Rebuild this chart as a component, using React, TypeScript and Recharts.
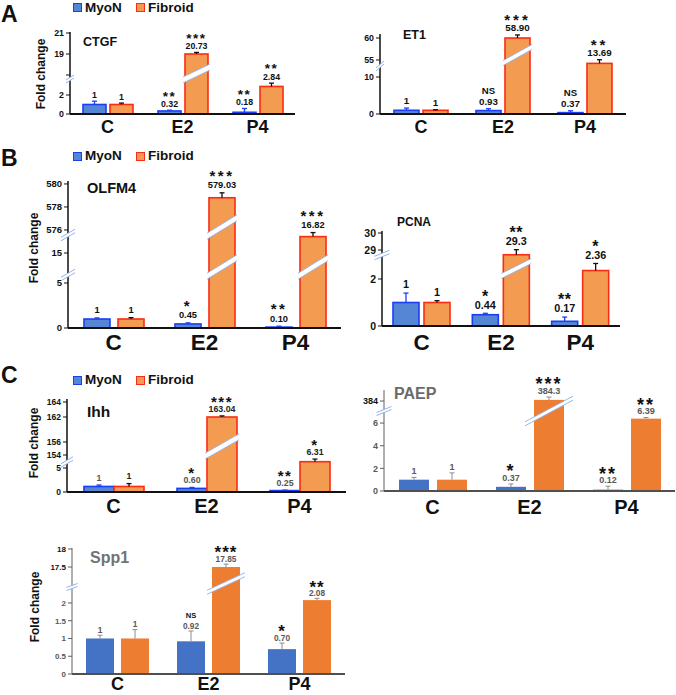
import React from 'react';
import { BarChart, Bar, XAxis, YAxis } from 'recharts';

const FONT = "'Liberation Sans', Arial, Helvetica, sans-serif";
const categories = ['C', 'E2', 'P4'];

// ---- CTGF ----
const ctgfMyoN = [1, 0.32, 0.18];
const ctgfFibroid = [1, 19.0, 2.9];
const ctgfMyoNErr = [0.35, 0.08, 0.4];
const ctgfFibroidErr = [0.15, 0.15, 0.35];
const ctgfMyoNText = ['1', '0.32', '0.18'];
const ctgfFibroidText = ['1', '20.73', '2.84'];
const ctgfMyoNSig = ['', '**', '**'];
const ctgfFibroidSig = ['', '***', '**'];
const ctgfTicks = [0, 2, 17, 19, 21];
const ctgfTickLabels = ['0', '2', '', '19', '21'];

// ---- ET1 ----
const et1MyoN = [1, 0.93, 0.37];
const et1Fibroid = [1, 60, 13.69];
const et1MyoNErr = [0.6, 0.5, 0.5];
const et1FibroidErr = [0.15, 0.7, 1.0];
const et1MyoNText = ['1', '0.93', '0.37'];
const et1FibroidText = ['1', '58.90', '13.69'];
const et1MyoNSig = ['', 'NS', 'NS'];
const et1FibroidSig = ['', '***', '**'];
const et1Ticks = [0, 10, 55, 60];
const et1TickLabels = ['0', '10', '55', '60'];

// ---- OLFM4 ----
const olfm4MyoN = [1, 0.45, 0.1];
const olfm4Fibroid = [1, 578.8, 16.82];
const olfm4MyoNErr = [0.12, 0.12, 0.1];
const olfm4FibroidErr = [0.15, 0.43, 0.45];
const olfm4MyoNText = ['1', '0.45', '0.10'];
const olfm4FibroidText = ['1', '579.03', '16.82'];
const olfm4MyoNSig = ['', '*', '**'];
const olfm4FibroidSig = ['', '***', '***'];
const olfm4Ticks = [0, 5, 15, 576, 578, 580];
const olfm4TickLabels = ['0', '5', '15', '576', '578', '580'];

// ---- PCNA ----
const pcnaMyoN = [1, 0.48, 0.2];
const pcnaFibroid = [1, 28.72, 2.36];
const pcnaMyoNErr = [0.4, 0.06, 0.18];
const pcnaFibroidErr = [0.08, 0.3, 0.3];
const pcnaMyoNText = ['1', '0.44', '0.17'];
const pcnaFibroidText = ['1', '29.3', '2.36'];
const pcnaMyoNSig = ['', '*', '**'];
const pcnaFibroidSig = ['', '**', '*'];
const pcnaTicks = [0, 2, 29, 30];
const pcnaTickLabels = ['0', '2', '29', '30'];

// ---- Ihh ----
const ihhMyoN = [1.15, 0.75, 0.3];
const ihhFibroid = [1.15, 162, 6.31];
const ihhMyoNErr = [0.3, 0.2, 0.1];
const ihhFibroidErr = [0.6, 0.15, 0.55];
const ihhMyoNText = ['1', '0.60', '0.25'];
const ihhFibroidText = ['1', '163.04', '6.31'];
const ihhMyoNSig = ['', '*', '**'];
const ihhFibroidSig = ['', '***', '*'];
const ihhTicks = [0, 5, 154, 156, 162, 164];
const ihhTickLabels = ['0', '5', '154', '156', '162', '164'];

// ---- PAEP ----
const paepMyoN = [1, 0.37, 0.12];
const paepFibroid = [1, 384.1, 6.39];
const paepMyoNErr = [0.2, 0.25, 0.3];
const paepFibroidErr = [0.6, 0.25, 0.1];
const paepMyoNText = ['1', '0.37', '0.12'];
const paepFibroidText = ['1', '384.3', '6.39'];
const paepMyoNSig = ['', '*', '**'];
const paepFibroidSig = ['', '***', '**'];
const paepTicks = [0, 2, 4, 6, 384];
const paepTickLabels = ['0', '2', '4', '6', '384'];

// ---- Spp1 ----
const spp1MyoN = [1, 0.92, 0.7];
const spp1Fibroid = [1, 17.5, 2.08];
const spp1MyoNErr = [0.09, 0.29, 0.17];
const spp1FibroidErr = [0.25, 0.08, 0.05];
const spp1MyoNText = ['1', '0.92', '0.70'];
const spp1FibroidText = ['1', '17.85', '2.08'];
const spp1MyoNSig = ['', 'NS', '*'];
const spp1FibroidSig = ['', '***', '**'];
const spp1Ticks = [0, 0.5, 1, 1.5, 2, 17.5, 18];
const spp1TickLabels = ['0', '0.5', '1', '1.5', '2', '17.5', '18'];

// ---------- styles ----------
const styleAB: any = {
  myonFill: '#5586d6', myonStroke: '#1b3ff0', fibFill: '#f39b51', fibStroke: '#fb2c14', strokeW: 1.6,
  myonErr: '#1b3ff0', fibErr: '#111', errW: 1.3,
  xAxisColor: '#111', xAxisW: 1.8, yAxisColor: '#111', yAxisW: 1.5,
  tickColor: '#111', tickDark: '#111', valueColorM: '#111', valueColorF: '#111', starColor: '#111',
  breakColor: '#95b3e8', bandColor: '#95b3e8',
};
const styleIhh: any = { ...styleAB, valueColorM: '#555', valueColorF: '#222' };
const styleExcel: any = {
  myonFill: '#4472c4', myonStroke: 'none', fibFill: '#ed7d31', fibStroke: 'none', strokeW: 0,
  myonErr: '#8c8c8c', fibErr: '#8c8c8c', errW: 1,
  xAxisColor: '#505050', xAxisW: 2, yAxisColor: '#606060', yAxisW: 1,
  tickColor: '#595959', tickDark: '#111', valueColorM: '#595959', valueColorF: '#595959', starColor: '#111',
  breakColor: '#95b3e8', bandColor: '#8fb0e6',
};

const YW = 50;
const MT = 44;
const XH = 40;
const MR = 2;

// ---------- broken-axis mapping ----------
function segIndex(v: number, segs: number[][][]) {
  let best = 0;
  let bd = Infinity;
  segs.forEach((s, i) => {
    const lo = s[0][0];
    const hi = s[s.length - 1][0];
    const d = v < lo ? lo - v : v > hi ? v - hi : 0;
    if (d < bd) { bd = d; best = i; }
  });
  return best;
}
function interp(v: number, seg: number[][]) {
  let i = 0;
  while (i < seg.length - 2 && v > seg[i + 1][0]) i++;
  const [v0, p0] = seg[i];
  const [v1, p1] = seg[i + 1];
  return p0 + ((v - v0) * (p1 - p0)) / (v1 - v0);
}
function toDisp(v: number, segs: number[][][]) {
  return interp(v, segs[segIndex(v, segs)]);
}
function errDisp(v: number, e: number, segs: number[][][]) {
  const seg = segs[segIndex(v, segs)];
  return interp(v + e, seg) - interp(v, seg);
}

function buildRows(p: any) {
  return categories.map((c, i) => ({
    cat: c,
    m: toDisp(p.myon[i], p.segs),
    f: toDisp(p.fib[i], p.segs),
    mErr: errDisp(p.myon[i], p.myonErr[i], p.segs),
    fErr: errDisp(p.fib[i], p.fibErr[i], p.segs),
    mText: p.myonText[i],
    fText: p.fibText[i],
    mSig: p.myonSig[i],
    fSig: p.fibSig[i],
  }));
}

// ---------- panels ----------
const panels: any[] = [
  {
    key: 'ctgf', myon: ctgfMyoN, fib: ctgfFibroid, myonErr: ctgfMyoNErr, fibErr: ctgfFibroidErr,
    myonText: ctgfMyoNText, fibText: ctgfFibroidText, myonSig: ctgfMyoNSig, fibSig: ctgfFibroidSig,
    ticks: ctgfTicks, tickLabels: ctgfTickLabels,
    segs: [[[0, 0], [3.4, 32.3]], [[17, 39], [21.2, 83.1]]],
    axisX: 70, baseY: 114, D: 82, W: 225, barSize: 23, barGap: 4,
    axisBreaks: [35], breakW: 8, breakRise: 5, breakGap: 3,
    bandBreaks: [35], bandRise: 11, bandT: 6, bandExt: 2,
    valGap: 6.5, starGap: 11, valSize: 8.8, starSize: 13.5, starLs: 1.5, nsSize: 9.6,
    tickFont: 8.8, catSize: 18, catDy: 13, capW: 2.5, darkFrom: 1e9, style: styleAB,
  },
  {
    key: 'et1', myon: et1MyoN, fib: et1Fibroid, myonErr: et1MyoNErr, fibErr: et1FibroidErr,
    myonText: et1MyoNText, fibText: et1FibroidText, myonSig: et1MyoNSig, fibSig: et1FibroidSig,
    ticks: et1Ticks, tickLabels: et1TickLabels,
    segs: [[[0, 0], [14.2, 52.5]], [[54.7, 52.7], [60.8, 79.5]]],
    axisX: 380, baseY: 114, D: 80, W: 246, barSize: 25, barGap: 4,
    axisBreaks: [48], breakW: 8, breakRise: 7, breakGap: 3,
    bandBreaks: [52], bandRise: 14, bandT: 5, bandExt: 2,
    valGap: 7.5, starGap: 11, valSize: 9.8, starSize: 15, starLs: 3, nsSize: 9.6,
    tickFont: 8.8, catSize: 18, catDy: 13, capW: 2.5, darkFrom: 1e9, style: styleAB,
  },
  {
    key: 'olfm4', myon: olfm4MyoN, fib: olfm4Fibroid, myonErr: olfm4MyoNErr, fibErr: olfm4FibroidErr,
    myonText: olfm4MyoNText, fibText: olfm4FibroidText, myonSig: olfm4MyoNSig, fibSig: olfm4FibroidSig,
    ticks: olfm4Ticks, tickLabels: olfm4TickLabels,
    segs: [[[0, 0], [5.9, 53.1]], [[12.9, 56.1], [17, 93]], [[575.65, 94], [580.3, 147.5]]],
    axisX: 68, baseY: 328, D: 147, W: 273, barSize: 26, barGap: 8,
    axisBreaks: [53, 93], breakW: 14, breakRise: 8, breakGap: 3.5,
    bandBreaks: [53, 93], bandRise: 16, bandT: 6, bandExt: 2,
    valGap: 8, starGap: 12.5, valSize: 9.3, starSize: 15, starLs: 2.5, nsSize: 10,
    tickFont: 9.5, catSize: 22.5, catDy: 14, capW: 2.5, darkFrom: 1e9, style: styleAB,
  },
  {
    key: 'pcna', myon: pcnaMyoN, fib: pcnaFibroid, myonErr: pcnaMyoNErr, fibErr: pcnaFibroidErr,
    myonText: pcnaMyoNText, fibText: pcnaFibroidText, myonSig: pcnaMyoNSig, fibSig: pcnaFibroidSig,
    ticks: pcnaTicks, tickLabels: pcnaTickLabels,
    segs: [[[0, 0], [3.0, 70.5]], [[28.7, 70.9], [30.1, 94.7]]],
    axisX: 382, baseY: 326, D: 95, W: 238, barSize: 26, barGap: 5,
    axisBreaks: [71], breakW: 15, breakRise: 6, breakGap: 3.5,
    bandBreaks: [51], bandRise: 13, bandT: 5, bandExt: 2,
    valGap: 8.5, starGap: 12.5, valSize: 10.8, starSize: 16, starLs: 0.5, nsSize: 10,
    tickFont: 10.5, catSize: 22.5, catDy: 16, capW: 2.5, darkFrom: 1e9, style: styleAB,
  },
  {
    key: 'ihh', myon: ihhMyoN, fib: ihhFibroid, myonErr: ihhMyoNErr, fibErr: ihhFibroidErr,
    myonText: ihhMyoNText, fibText: ihhFibroidText, myonSig: ihhMyoNSig, fibSig: ihhFibroidSig,
    ticks: ihhTicks, tickLabels: ihhTickLabels,
    segs: [[[0, 0], [6.6, 31.7]], [[153.4, 33.5], [154, 37], [156, 50], [162, 75], [164, 90], [164.4, 93]]],
    axisX: 67, baseY: 492, D: 93, W: 279, barSize: 30, barGap: 0,
    axisBreaks: [30], breakW: 12, breakRise: 7, breakGap: 3.5,
    bandBreaks: [37], bandRise: 17, bandT: 6, bandExt: 2,
    valGap: 7.5, starGap: 10.5, valSize: 8.8, starSize: 15, starLs: 1.5, nsSize: 9,
    tickFont: 8.5, catSize: 20, catDy: 14, capW: 2.5, darkFrom: 1e9, style: styleIhh,
  },
  {
    key: 'paep', myon: paepMyoN, fib: paepFibroid, myonErr: paepMyoNErr, fibErr: paepFibroidErr,
    myonText: paepMyoNText, fibText: paepFibroidText, myonSig: paepMyoNSig, fibSig: paepFibroidSig,
    ticks: paepTicks, tickLabels: paepTickLabels,
    segs: [[[0, 0], [7.1, 80.4]], [[383.1, 79.8], [385, 101.3]]],
    axisX: 384, baseY: 491, D: 101, W: 291, barSize: 30, barGap: 8,
    axisBreaks: [80], breakW: 15, breakRise: 6, breakGap: 3,
    bandBreaks: [72], bandRise: 16, bandT: 4, bandExt: 9,
    valGap: 6.5, starGap: 10.5, valSize: 9, starSize: 18, starLs: 2, nsSize: 8.5,
    tickFont: 9, catSize: 20, catDy: 15.5, capW: 2.5, darkFrom: 100, style: styleExcel,
  },
  {
    key: 'spp1', myon: spp1MyoN, fib: spp1Fibroid, myonErr: spp1MyoNErr, fibErr: spp1FibroidErr,
    myonText: spp1MyoNText, fibText: spp1FibroidText, myonSig: spp1MyoNSig, fibSig: spp1FibroidSig,
    ticks: spp1Ticks, tickLabels: spp1TickLabels,
    segs: [[[0, 0], [2.3, 81.7]], [[17.2, 96.2], [18.05, 126.8]]],
    axisX: 72, baseY: 674, D: 126, W: 273, barSize: 28, barGap: 7,
    axisBreaks: [87], breakW: 11, breakRise: 4, breakGap: 3,
    bandBreaks: [84], bandRise: 13, bandT: 4, bandExt: 5,
    valGap: 5.5, starGap: 10, valSize: 8.3, starSize: 17, starLs: 1, nsSize: 7.5,
    tickFont: 8, catSize: 18, catDy: 10, capW: 2.5, darkFrom: 10, style: styleExcel,
  },
];

// ---------- chart pieces ----------
function makeShape(p: any, rows: any[], s: 'm' | 'f') {
  const st = p.style;
  return (props: any) => {
    const { x, y, width, height, index } = props;
    const row = props.payload && props.payload.cat ? props.payload : rows[index];
    const disp = row[s];
    const k = disp > 0 && height > 0 ? height / disp : 1;
    const base = y + height;
    const fill = s === 'm' ? st.myonFill : st.fibFill;
    const stroke = s === 'm' ? st.myonStroke : st.fibStroke;
    const errColor = s === 'm' ? st.myonErr : st.fibErr;
    const errPx = row[s + 'Err'] * k;
    const cx = x + width / 2;
    const top = y - errPx;
    const els: any[] = [];
    els.push(
      <rect key="r" x={x} y={y} width={width} height={height} fill={fill} stroke={stroke} strokeWidth={st.strokeW} />
    );
    p.bandBreaks.forEach((bp: number, i: number) => {
      if (disp > bp + 6) {
        const yl = base - bp * k;
        const sl = p.bandRise / width;
        const x0 = x - p.bandExt;
        const x1 = x + width + p.bandExt;
        const yAt = (xx: number) => yl - sl * (xx - x);
        const t = p.bandT / 2;
        els.push(
          <polygon
            key={'b' + i}
            points={`${x0},${yAt(x0) + t} ${x1},${yAt(x1) + t} ${x1},${yAt(x1) - t} ${x0},${yAt(x0) - t}`}
            fill="#fff"
          />
        );
        els.push(<line key={'l1' + i} x1={x0} y1={yAt(x0) + t} x2={x1} y2={yAt(x1) + t} stroke={st.bandColor} strokeWidth={0.9} />);
        els.push(<line key={'l2' + i} x1={x0} y1={yAt(x0) - t} x2={x1} y2={yAt(x1) - t} stroke={st.bandColor} strokeWidth={0.9} />);
      }
    });
    if (errPx > 0.3) {
      els.push(<line key="e" x1={cx} y1={y} x2={cx} y2={top} stroke={errColor} strokeWidth={st.errW} />);
      els.push(<line key="ec" x1={cx - p.capW} y1={top} x2={cx + p.capW} y2={top} stroke={errColor} strokeWidth={st.errW} />);
    }
    const vc = top - p.valGap;
    const txt = row[s + 'Text'];
    const sig = row[s + 'Sig'];
    els.push(
      <text key="v" x={cx} y={vc + 0.36 * p.valSize} textAnchor="middle" fontFamily={FONT} fontWeight="bold"
        fontSize={p.valSize} fill={s === 'm' ? st.valueColorM : st.valueColorF}>{txt}</text>
    );
    if (sig) {
      const sc = vc - p.starGap;
      const isNS = sig === 'NS';
      const size = isNS ? p.nsSize : p.starSize;
      els.push(
        <text key="s" x={cx} y={sc + (isNS ? 0.36 : 0.58) * size} textAnchor="middle" fontFamily={FONT}
          fontWeight="bold" fontSize={size} letterSpacing={isNS ? 0 : p.starLs} fill={st.starColor}>{sig}</text>
      );
    }
    return <g>{els}</g>;
  };
}

function Panel({ p }: { p: any }) {
  const st = p.style;
  const rows = buildRows(p);
  const width = YW + p.W + MR;
  const height = MT + p.D + XH;
  const tickDisp = p.ticks.map((v: number) => toDisp(v, p.segs));
  const allTicks = [...tickDisp, ...p.axisBreaks];
  const ax = YW;

  const yTick = (tp: any) => {
    const v = tp.payload.value;
    const y = tp.y;
    if (p.axisBreaks.includes(v)) {
      const w = p.breakW, r = p.breakRise, g = p.breakGap;
      const xa = ax - w / 2, xb = ax + w / 2;
      return (
        <g>
          <polygon points={`${xa},${y + r / 2 + g / 2} ${xb},${y - r / 2 + g / 2} ${xb},${y - r / 2 - g / 2} ${xa},${y + r / 2 - g / 2}`} fill="#fff" />
          <line x1={xa} y1={y + r / 2 + g / 2} x2={xb} y2={y - r / 2 + g / 2} stroke={st.breakColor} strokeWidth={1} />
          <line x1={xa} y1={y + r / 2 - g / 2} x2={xb} y2={y - r / 2 - g / 2} stroke={st.breakColor} strokeWidth={1} />
        </g>
      );
    }
    const i = tickDisp.indexOf(v);
    const label = i >= 0 ? p.tickLabels[i] : '';
    const raw = i >= 0 ? p.ticks[i] : 0;
    const color = raw >= p.darkFrom ? st.tickDark : st.tickColor;
    return (
      <g>
        <line x1={ax - 4} x2={ax} y1={y} y2={y} stroke={st.yAxisColor} strokeWidth={1} />
        <text x={ax - 6} y={y + 0.36 * p.tickFont} textAnchor="end" fontFamily={FONT} fontWeight="bold"
          fontSize={p.tickFont} fill={color}>{label}</text>
      </g>
    );
  };

  const xTick = (tp: any) => (
    <text x={tp.x} y={MT + p.D + p.catDy + 0.36 * p.catSize} textAnchor="middle" fontFamily={FONT}
      fontWeight="bold" fontSize={p.catSize} fill="#111">{tp.payload.value}</text>
  );

  return (
    <div style={{ position: 'absolute', left: p.axisX - YW, top: p.baseY - p.D - MT }}>
      <BarChart width={width} height={height} data={rows} margin={{ top: MT, right: MR, left: 0, bottom: 0 }} barGap={p.barGap}>
        <XAxis dataKey="cat" height={XH} tickLine={false} tickSize={0} tickMargin={0} interval={0}
          axisLine={{ stroke: st.xAxisColor, strokeWidth: st.xAxisW }} tick={xTick} />
        <YAxis type="number" width={YW} domain={[0, p.D]} ticks={allTicks} interval={0} tickLine={false}
          tickSize={0} tickMargin={0} axisLine={{ stroke: st.yAxisColor, strokeWidth: st.yAxisW }} tick={yTick} />
        <Bar dataKey="m" barSize={p.barSize} isAnimationActive={false} shape={makeShape(p, rows, 'm')} />
        <Bar dataKey="f" barSize={p.barSize} isAnimationActive={false} shape={makeShape(p, rows, 'f')} />
      </BarChart>
    </div>
  );
}

// ---------- HTML text helpers ----------
function T({ x, cy, size, color = '#111', weight = 'bold', children }: any) {
  return (
    <div style={{
      position: 'absolute', left: x, top: cy - size * 0.59, fontSize: size, lineHeight: `${size * 1.2}px`,
      fontFamily: FONT, fontWeight: weight, color, whiteSpace: 'nowrap',
    }}>{children}</div>
  );
}
function VT({ cx, cy, size, children }: any) {
  return (
    <div style={{
      position: 'absolute', left: cx, top: cy, transform: 'translate(-50%,-50%) rotate(-90deg)',
      fontSize: size, lineHeight: `${size * 1.2}px`, fontFamily: FONT, fontWeight: 'bold', color: '#111', whiteSpace: 'nowrap',
    }}>{children}</div>
  );
}
function LegendRow({ cy }: { cy: number }) {
  const sq = (left: number, fill: string, stroke: string) => (
    <div style={{
      position: 'absolute', left, top: cy - 4.5, width: 9, height: 9, boxSizing: 'border-box',
      background: fill, border: `1.5px solid ${stroke}`,
    }} />
  );
  return (
    <>
      {sq(73, styleAB.myonFill, styleAB.myonStroke)}
      <T x={85} cy={cy} size={13.5}>MyoN</T>
      {sq(136, styleAB.fibFill, styleAB.fibStroke)}
      <T x={148} cy={cy} size={13.5}>Fibroid</T>
    </>
  );
}

export default function App() {
  return (
    <div style={{ position: 'absolute', left: 0, top: 0, width: 676, height: 695, overflow: 'hidden', background: '#fff' }}>
      {panels.map((p) => <Panel key={p.key} p={p} />)}

      <T x={1} cy={15} size={23}>A</T>
      <T x={1} cy={158.5} size={23}>B</T>
      <T x={1} cy={376} size={23}>C</T>

      <LegendRow cy={7.5} />
      <LegendRow cy={156} />
      <LegendRow cy={380} />

      <VT cx={40.5} cy={74} size={12}>Fold change</VT>
      <VT cx={33.5} cy={248} size={12}>Fold change</VT>
      <VT cx={34} cy={443} size={12}>Fold change</VT>
      <VT cx={35} cy={607} size={12}>Fold change</VT>

      <T x={83} cy={42} size={12.5}>CTGF</T>
      <T x={403} cy={35} size={12.5}>ET1</T>
      <T x={87} cy={189} size={14.5}>OLFM4</T>
      <T x={397} cy={222} size={12}>PCNA</T>
      <T x={87} cy={412} size={15.5}>Ihh</T>
      <T x={394} cy={393} size={16} color="#6b6b6b">PAEP</T>
      <T x={90} cy={557} size={16} color="#737373">Spp1</T>
    </div>
  );
}
